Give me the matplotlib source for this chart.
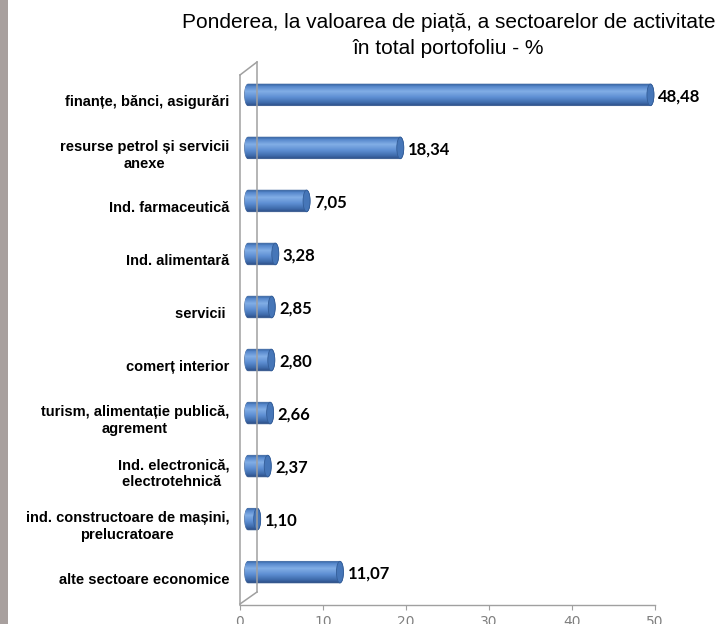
import numpy as np
import matplotlib
matplotlib.use("Agg")
import matplotlib.pyplot as plt
from matplotlib.colors import LinearSegmentedColormap
from matplotlib.patches import Polygon, Ellipse, Rectangle
from matplotlib.lines import Line2D

categories = ["finanțe, bănci, asigurări",
              "resurse petrol și servicii\nanexe",
              "Ind. farmaceutică",
              "Ind. alimentară",
              "servicii ",
              "comerț interior",
              "turism, alimentație publică,\nagrement",
              "Ind. electronică,\nelectrotehnică ",
              "ind. constructoare de mașini,\nprelucratoare",
              "alte sectoare economice"]
values = [48.48, 18.34, 7.05, 3.28, 2.85, 2.80, 2.66, 2.37, 1.10, 11.07]
ticks = [0, 10, 20, 30, 40, 50]
title_1 = "Ponderea, la valoarea de piață, a sectoarelor de activitate"
title_2 = "în total portofoliu - %"

W, H = 725, 624
fig = plt.figure(figsize=(W / 100, H / 100), dpi=100)
fig.patch.set_facecolor("white")

# grey strip on the left edge
fig.add_artist(Rectangle((0, 0), 8 / W, 1, transform=fig.transFigure,
                         facecolor="#a8a09e", edgecolor="none"))

ax = fig.add_axes([240 / W, 1 - 605 / H, 415 / W, (605 - 62) / H])
ax.set_facecolor("none")

px_y = 53.0            # pixels per category
off = 0.97             # shift of bars (3d depth)
cw = 0.42              # half width of cylinder cap
hh = 10.8 / px_y       # half height of bar

cmap = LinearSegmentedColormap.from_list(
    "cyl", [(0.0, "#34619f"), (0.1, "#5687cb"), (0.33, "#82aee6"),
            (0.6, "#5e8fd3"), (0.85, "#3f6cac"), (1.0, "#2b4d84")])
grad = np.linspace(0, 1, 64).reshape(-1, 1)

for i, v in enumerate(values):
    x0, x1 = off, off + v
    t = np.linspace(np.pi / 2, 3 * np.pi / 2, 30)
    left = np.column_stack([x0 + cw * np.cos(t), i - hh * np.sin(t)])
    t2 = np.linspace(-np.pi / 2, np.pi / 2, 30)
    right = np.column_stack([x1 + cw * np.cos(t2), i - hh * np.sin(t2)])
    shape = Polygon(np.vstack([left, right]), closed=True, facecolor="none",
                    edgecolor="#335c96", lw=0.5)
    ax.add_patch(shape)
    im = ax.imshow(grad, cmap=cmap, aspect="auto", origin="upper",
                   extent=(x0 - cw, x1 + cw, i + hh, i - hh), zorder=2)
    im.set_clip_path(shape)
    ax.add_patch(Ellipse((x1, i), 2 * cw, 2 * hh, facecolor="#4676b8",
                         edgecolor="#335d98", lw=0.6, zorder=3))
    ax.text(x1 + cw + 0.5, i + 0.03, f"{v:.2f}".replace(".", ","),
            ha="left", va="center", fontsize=12, fontweight="bold",
            family="Lato", color="black")
    ax.text(-1.3, i + 0.14, categories[i], ha="right", va="center",
            multialignment="center", fontsize=10.5, fontweight="bold",
            family="Liberation Sans", color="black", clip_on=False,
            linespacing=1.25)

ax.set_xlim(0, 50)
ax.set_ylim(9.62, -0.62)
ax.set_yticks([])
ax.set_xticks(ticks)
ax.set_xticklabels([str(t) for t in ticks], fontsize=10, color="#808080")
ax.tick_params(axis="x", direction="out", length=3.6, width=0.8,
               color="#a0a0a0", pad=3.5)
for s in ["top", "right", "left"]:
    ax.spines[s].set_visible(False)
ax.spines["bottom"].set_color("#a0a0a0")
ax.spines["bottom"].set_linewidth(1.0)

# back wall of the 3d chart
wall = "#a0a0a0"
def fl(xs, ys):
    fig.add_artist(Line2D([x / W for x in xs], [1 - y / H for y in ys],
                          transform=fig.transFigure, color=wall, lw=1.1))
fl([240, 240], [605, 75])
fl([257, 257], [592, 62])
fl([240, 257], [75, 62])
fl([240, 257], [604, 592])

fig.text(449 / W, 1 - 23 / H, title_1, ha="center", va="center",
         fontsize=15, family="Liberation Sans")
fig.text(448 / W, 1 - 48 / H, title_2, ha="center", va="center",
         fontsize=15, family="Liberation Sans")

fig.savefig("out.png", dpi=100)
